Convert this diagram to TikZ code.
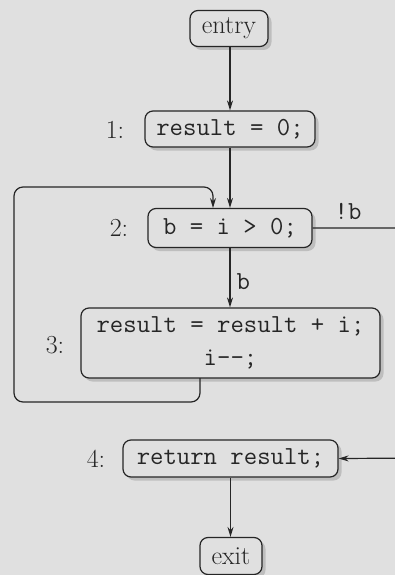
\documentclass[tikz,border=0pt]{standalone}
\usetikzlibrary{shadows,arrows.meta}
\definecolor{bgcol}{gray}{0.88}
\definecolor{ink}{gray}{0.15}
\tikzset{
  blk/.style={draw=ink, line width=1.2pt, rounded corners=8pt, fill=bgcol,
    minimum height=36pt, inner xsep=4pt, inner ysep=2pt, text=ink,
    font=\fontsize{26}{33}\selectfont,
    drop shadow={shadow xshift=3.5pt, shadow yshift=-3.5pt, fill=black!38}},
  code/.style={font=\fontsize{26}{33}\selectfont\ttfamily},
  lbl/.style={text=ink, font=\fontsize{26}{33}\selectfont, inner sep=0pt},
  edge/.style={draw=ink, line width=1.2pt, -{Stealth[length=10pt,width=6pt]}},
  plain/.style={draw=ink, line width=1.2pt}
}
\begin{document}
\begin{tikzpicture}[x=1pt,y=-1pt]
\useasboundingbox (0,0) rectangle (395,575);
\fill[bgcol] (0,0) rectangle (395,575);
\clip (0,0) rectangle (395,575);

\node[blk, minimum width=78pt] (entry) at (229,28.5) {entry};
\node[blk, code, minimum width=170pt] (b1) at (230,129) {result = 0;};
\node[blk, code, minimum width=164pt, minimum height=39pt] (b2) at (230,228) {b = i > 0;};
\node[blk, code, minimum width=299pt, minimum height=70pt, align=center] (b3) at (230.5,343) {result = result + i;\\i{-}{-};};
\node[blk, code, minimum width=215pt, minimum height=37pt] (b4) at (230.5,458.5) {return result;};
\node[blk, minimum width=62pt, minimum height=37pt] (exit) at (231,556) {exit};

\node[lbl] (l1) at (115,130) {1:};
\node[lbl] (l2) at (119,228) {2:};
\node[lbl] (l3) at (55,345) {3:};
\node[lbl] (l4) at (96,459) {4:};

\draw[edge] (entry.south -| b1.north) -- (b1.north);
\draw[edge] (b1.south) -- (b2.north);
\draw[edge] (b2.south) -- node[right, lbl, code, xshift=6pt, yshift=-4pt] (lb) {b} (b2.south |- b3.north);
\draw[edge] (b4.south) -- (b4.south |- exit.north);

\coordinate (lstart) at (200,378);
\coordinate (lend) at (213,208);
\draw[edge, rounded corners=9pt] (lstart) -- (200,402) -- (14,402) -- (14,187) -- (213,187) -- (lend);

\coordinate (rout) at (430,228);
\node[lbl, code] (nb) at (348,211) {!b};
\draw[edge, rounded corners=9pt] (b2.east) -- (rout) -- (430,458) -- (b4.east);
\end{tikzpicture}
\end{document}
